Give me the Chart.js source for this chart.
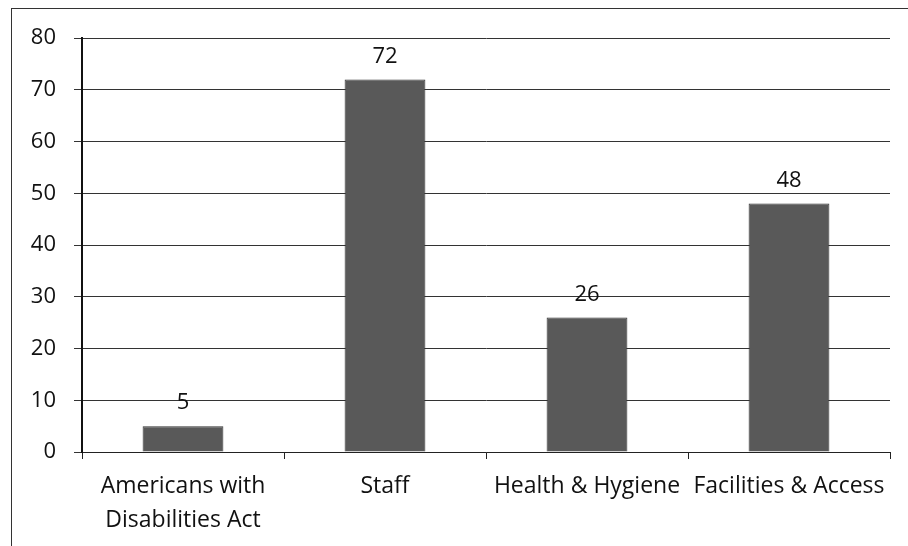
<!DOCTYPE html>
<html>
<head>
<meta charset="utf-8">
<script src="https://cdn.jsdelivr.net/npm/chart.js@4.4.1/dist/chart.umd.min.js"></script>
<style>
    html, body { margin: 0; padding: 0; background: #fff; }
    .wrap { position: relative; width: 908px; height: 546px; }
    .frame {
        position: absolute; left: 11px; top: 8px; right: -2px; bottom: -2px;
        border-left: 1px solid #333; border-top: 1px solid #333;
    }
    canvas { position: absolute; left: 0; top: 0; }
</style>
</head>
<body>
<div class="wrap">
    <div class="frame"></div>
    <canvas id="chart" width="908" height="546"></canvas>
</div>
<script>
// 类别和数值
const categories = [
    ['Americans with', 'Disabilities Act'],
    'Staff',
    'Health & Hygiene',
    'Facilities & Access'
];
const counts = [5, 72, 26, 48];
const yTicks = [0, 10, 20, 30, 40, 50, 60, 70, 80];

const fontFamily = '"Open Sans", Lato, sans-serif';

// 柱顶数值标签
const valueLabels = {
    id: 'valueLabels',
    afterDatasetsDraw(chart) {
        const ctx = chart.ctx;
        const meta = chart.getDatasetMeta(0);
        ctx.save();
        ctx.font = '22px ' + fontFamily;
        ctx.fillStyle = '#111';
        ctx.textAlign = 'center';
        ctx.textBaseline = 'bottom';
        meta.data.forEach((bar, i) => {
            ctx.fillText(String(counts[i]), bar.x, bar.y - 12);
        });
        ctx.restore();
    }
};

new Chart(document.getElementById('chart'), {
    type: 'bar',
    data: {
        labels: categories,
        datasets: [{
            data: counts,
            backgroundColor: '#595959',
            borderColor: '#333',
            borderWidth: 1,
            barPercentage: 0.4,
            categoryPercentage: 1
        }]
    },
    options: {
        responsive: false,
        animation: false,
        devicePixelRatio: 1,
        layout: { padding: { left: 20, top: 38, right: 18, bottom: 8 } },
        plugins: {
            legend: { display: false },
            tooltip: { enabled: false }
        },
        scales: {
            x: {
                grid: {
                    offset: true,
                    drawOnChartArea: false,
                    tickLength: 7,
                    color: '#222'
                },
                border: { color: '#222', width: 1 },
                ticks: {
                    color: '#111',
                    font: { family: fontFamily, size: 23, lineHeight: 1.48 },
                    padding: 10,
                    maxRotation: 0,
                    autoSkip: false
                },
                afterFit(scale) { scale.height = 86; }
            },
            y: {
                min: 0,
                max: 80,
                afterBuildTicks(scale) {
                    scale.ticks = yTicks.map(v => ({ value: v }));
                },
                grid: { color: '#333', tickLength: 8 },
                border: { color: '#111', width: 2 },
                ticks: {
                    color: '#111',
                    font: { family: fontFamily, size: 22 },
                    padding: 18
                },
                afterFit(scale) { scale.width = 62; }
            }
        }
    },
    plugins: [valueLabels]
});
</script>
</body>
</html>
